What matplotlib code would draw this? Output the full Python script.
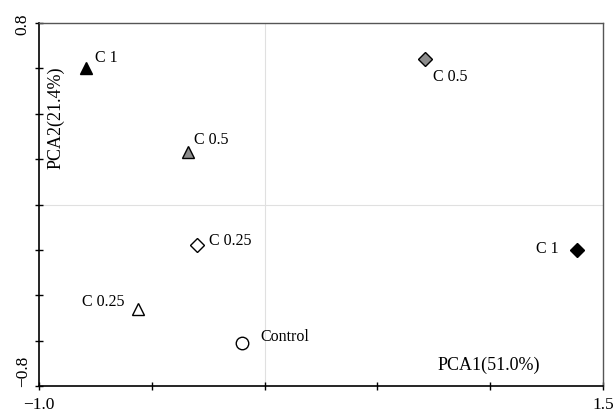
import matplotlib.pyplot as plt

plt.rcParams['font.family'] = ['Liberation Serif', 'DejaVu Serif']

# PCA scores
labels = ["C 1", "C 0.5", "C 0.5", "C 0.25", "C 0.25", "Control", "C 1"]
pc1 = [-0.79, -0.34, 0.71, -0.30, -0.56, -0.10, 1.385]
pc2 = [0.60, 0.23, 0.64, -0.18, -0.46, -0.61, -0.20]

# marker style for each point
markers = ["^", "^", "D", "D", "^", "o", "D"]
faces = ["black", "#8c8c8c", "#8c8c8c", "white", "white", "white", "black"]
sizes = [8, 8, 7, 7, 8, 9, 7]
# label offsets (points) and alignment
offsets = [(6, 8), (4.5, 9.5), (6, -12), (9, 4), (-10, 6), (13, 5), (-13, 1)]
aligns = ["left", "left", "left", "left", "right", "left", "right"]

fig = plt.figure(figsize=(6.16, 4.14), dpi=100)
ax = fig.add_axes([0.0633, 0.0652, 0.9157, 0.8768])

ax.axvline(0, color="#e0e0e0", lw=0.8, zorder=0)
ax.axhline(0, color="#e0e0e0", lw=0.8, zorder=0)

for i in range(len(labels)):
    ax.plot(pc1[i], pc2[i], marker=markers[i], ms=sizes[i], mfc=faces[i],
            mec="black", mew=1.0, ls="none")
    ax.annotate(labels[i], (pc1[i], pc2[i]), xytext=offsets[i],
                textcoords="offset points", ha=aligns[i], va="center",
                fontsize=11.5)

ax.set_xlim(-1.0, 1.5)
ax.set_ylim(-0.8, 0.8)
ax.set_xticks([-1.0, -0.5, 0, 0.5, 1.0, 1.5])
ax.set_xticklabels(["\u22121.0", "", "", "", "", "1.5"], fontsize=12.5)
ax.set_yticks([-0.8, -0.6, -0.4, -0.2, 0, 0.2, 0.4, 0.6, 0.8])
ax.set_yticklabels(["\u22120.8", "", "", "", "", "", "", "", "0.8"],
                   fontsize=12.5, rotation=90)
ylabs = ax.get_yticklabels()
ylabs[0].set_va("bottom")
ylabs[-1].set_va("center")
ax.tick_params(direction="inout", length=6, width=1.0)
ax.tick_params(axis="x", pad=4)
ax.tick_params(axis="y", pad=3)

for s in ["left", "bottom"]:
    ax.spines[s].set_linewidth(1.2)
for s in ["top", "right"]:
    ax.spines[s].set_color("#555555")
    ax.spines[s].set_linewidth(1.0)

ax.text(0.03, 0.741, "PCA2(21.4%)", transform=ax.transAxes, rotation=90,
        ha="center", va="center", fontsize=13)
ax.text(0.888, 0.061, "PCA1(51.0%)", transform=ax.transAxes,
        ha="right", va="center", fontsize=13)

plt.savefig("out.png", dpi=100)
